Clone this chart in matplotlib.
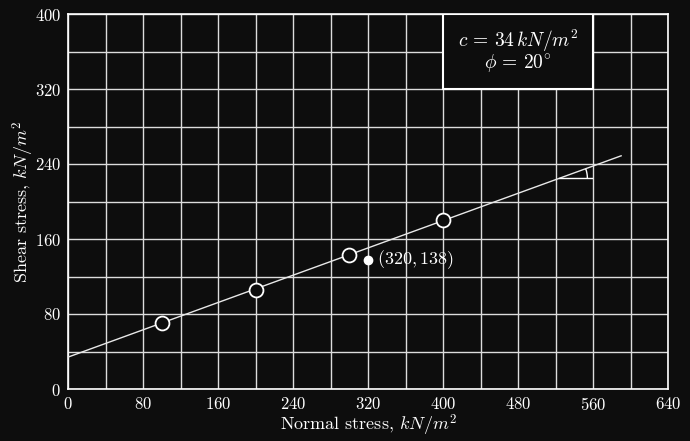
import matplotlib
matplotlib.use('Agg')
import matplotlib.pyplot as plt
from matplotlib.patches import Rectangle, Arc
import numpy as np

# datos del ensayo de corte directo
sigma_n = [100, 200, 300, 400]
tau = [70, 106, 143, 180]
punto_x, punto_y = 320, 138
c = 34
phi = 20
x_linea = [0, 590]
xticks = np.arange(0, 641, 80)
yticks = np.arange(0, 401, 80)

fondo = '#0d0d0d'
plt.rcParams['font.family'] = 'cmr10'
plt.rcParams['mathtext.fontset'] = 'cm'
plt.rcParams['axes.formatter.use_mathtext'] = True

fig = plt.figure(figsize=(6.9, 4.41), dpi=100, facecolor=fondo)
ax = fig.add_axes([68/690, 52/441, 600/690, 375/441], facecolor=fondo)

ax.set_xlim(0, 640)
ax.set_ylim(0, 400)
ax.set_xticks(np.arange(0, 641, 40), minor=True)
ax.set_yticks(np.arange(0, 401, 40), minor=True)
ax.set_xticks(xticks)
ax.set_yticks(yticks)
ax.grid(True, which='both', color='#dcdcdc', linewidth=1.0, zorder=0)
ax.tick_params(which='both', length=0, colors='white', labelsize=12, pad=5)
for s in ax.spines.values():
    s.set_color('white')
    s.set_linewidth(1.2)

# envolvente de Mohr-Coulomb
tan_phi = np.tan(np.radians(phi))
xl = np.array(x_linea)
ax.plot(xl, c + tan_phi * xl, color='#e8e8e8', linewidth=1.0, zorder=3)

ax.plot(sigma_n, tau, 'o', markersize=10, markerfacecolor=fondo,
        markeredgecolor='white', markeredgewidth=1.3, zorder=4)
ax.plot(punto_x, punto_y, 'o', markersize=6, color='white', zorder=4)
ax.text(punto_x + 10, punto_y, f'$({punto_x},{punto_y})$', color='white',
        fontsize=13, va='center', ha='left', zorder=5)

# marca del angulo
x0 = 524
y0 = c + tan_phi * x0
ax.plot([x0, x0 + 35], [y0, y0], color='white', linewidth=1.0, zorder=3)
ax.add_patch(Arc((x0, y0), 60, 60, theta1=0, theta2=phi, color='white',
                 linewidth=1.0, zorder=3))

# cuadro con parametros
ax.add_patch(Rectangle((400, 320), 160, 80, facecolor=fondo, edgecolor='white',
                       linewidth=1.5, zorder=6))
ax.text(480, 371, f'$c\\,=\\,{c}\\,kN/m^2$', color='white', fontsize=14,
        ha='center', va='center', zorder=7)
ax.text(480, 347, f'$\\phi\\,=\\,{phi}^{{\\circ}}$', color='white', fontsize=14,
        ha='center', va='center', zorder=7)

ax.set_xlabel('Normal stress, $kN/m^2$', color='white', fontsize=13, labelpad=0)
ax.set_ylabel('Shear stress, $kN/m^2$', color='white', fontsize=13, labelpad=-1)

fig.savefig('out.png', dpi=100, facecolor=fondo)
